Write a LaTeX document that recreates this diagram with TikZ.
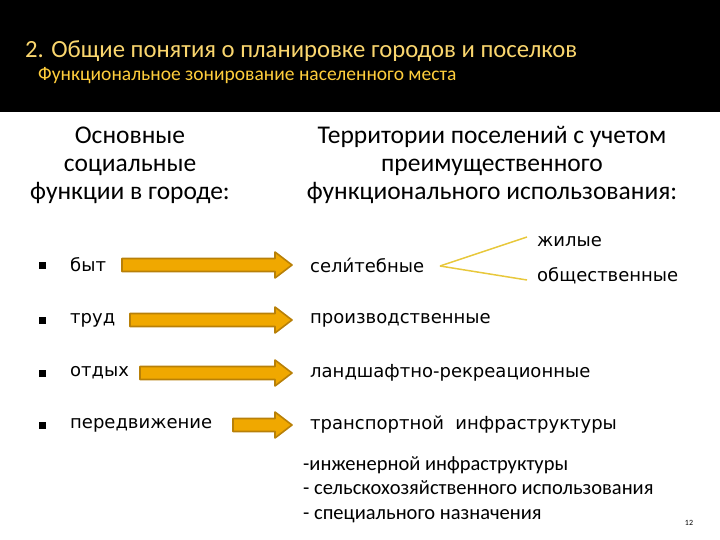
\documentclass[tikz,border=0pt]{standalone}
\usepackage{fontspec}
\setmainfont{DejaVu Sans}
\newfontfamily\headfont{Carlito}
\usetikzlibrary{positioning, calc}
\definecolor{titlegold}{RGB}{250,214,110}
\definecolor{subgold}{RGB}{255,206,60}
\definecolor{arrowfill}{RGB}{240,168,0}
\definecolor{arrowline}{RGB}{184,128,8}
\definecolor{forkline}{RGB}{232,200,60}

\tikzset{
  lefttext/.style={anchor=west, inner sep=0pt, font=\fontsize{18}{20}\selectfont},
  righttext/.style={anchor=west, inner sep=0pt, font=\fontsize{18}{20}\selectfont},
  headtext/.style={align=center, inner sep=0pt, font=\headfont\fontsize{25.5}{28}\selectfont},
  bulletbox/.style={fill=black, minimum size=7pt, inner sep=0pt},
  fatarrow/.style={fill=arrowfill, draw=arrowline, line width=1.6pt, line join=round},
  fork/.style={draw=forkline, line width=1.5pt}
}

% thick block arrow from a coordinate to the west side of a node
\newcommand{\fatarrow}[2]{%
  \draw[fatarrow] let \p1=(#1), \p2=($(#2.west)+(-18pt,0)$) in
    (\x1,\y1-6.5pt) -- (\x2-17pt,\y1-6.5pt) -- (\x2-17pt,\y1-13pt) -- (\x2,\y1)
    -- (\x2-17pt,\y1+13pt) -- (\x2-17pt,\y1+6.5pt) -- (\x1,\y1+6.5pt) -- cycle;}

\begin{document}
\begin{tikzpicture}[x=1pt, y=-1pt]
  \useasboundingbox (0,0) rectangle (720,540);
  \fill[black] (0,0) rectangle (720,112);

  % header
  \node[anchor=west, inner sep=0pt, text=titlegold, font=\headfont\fontsize{24.7}{28}\selectfont]
    (title) at (25,51) {2. Общие понятия о планировке городов и поселков};
  \node[anchor=west, inner sep=0pt, text=subgold, font=\headfont\fontsize{19.5}{22}\selectfont]
    (subtitle) at (38,76) {Функциональное зонирование населенного места};

  % column headings
  \node[headtext] (lefthead) at (130,165) {Основные\\социальные\\функции в городе:};
  \node[headtext] (righthead) at (492,165) {Территории поселений с учетом\\преимущественного\\функционального использования:};

  % functions
  \node[bulletbox] (b1) at (42,265) {};
  \node[bulletbox] (b2) at (42,320) {};
  \node[bulletbox] (b3) at (42,373) {};
  \node[bulletbox] (b4) at (42,425) {};
  \node[lefttext] (byt) at (70,265) {быт};
  \node[lefttext] (trud) at (70,320) {труд};
  \node[lefttext] (otdyh) at (70,373) {отдых};
  \node[lefttext] (pered) at (70,425) {передвижение};

  % territories
  \node[righttext] (selit) at (310,265) {сели́тебные};
  \node[righttext] (proizv) at (310,320) {производственные};
  \node[righttext] (landsh) at (310,373) {ландшафтно-рекреационные};
  \node[righttext] (transp) at (310,425) {транспортной\ \ инфраструктуры};
  \node[righttext] (zhil) at (537,242) {жилые};
  \node[righttext] (obsch) at (537,276) {общественные};

  \coordinate (fork) at (440,266);
  \draw[fork] (fork) -- (527,237);
  \draw[fork] (fork) -- (527,280);

  \coordinate (s1) at (122,265);
  \coordinate (s2) at (130,320);
  \coordinate (s3) at (140,373);
  \coordinate (s4) at (233,425);
  \fatarrow{s1}{selit}
  \fatarrow{s2}{proizv}
  \fatarrow{s3}{landsh}
  \fatarrow{s4}{transp}

  % other territories
  \node[anchor=north west, inner sep=0pt, align=left, font=\headfont\fontsize{20.5}{24.5}\selectfont]
    (others) at (303,456) {-инженерной инфраструктуры\\- сельскохозяйственного использования\\- специального назначения};
  \node[inner sep=0pt, font=\headfont\fontsize{8}{9}\selectfont] (page) at (689,523) {12};
\end{tikzpicture}
\end{document}
